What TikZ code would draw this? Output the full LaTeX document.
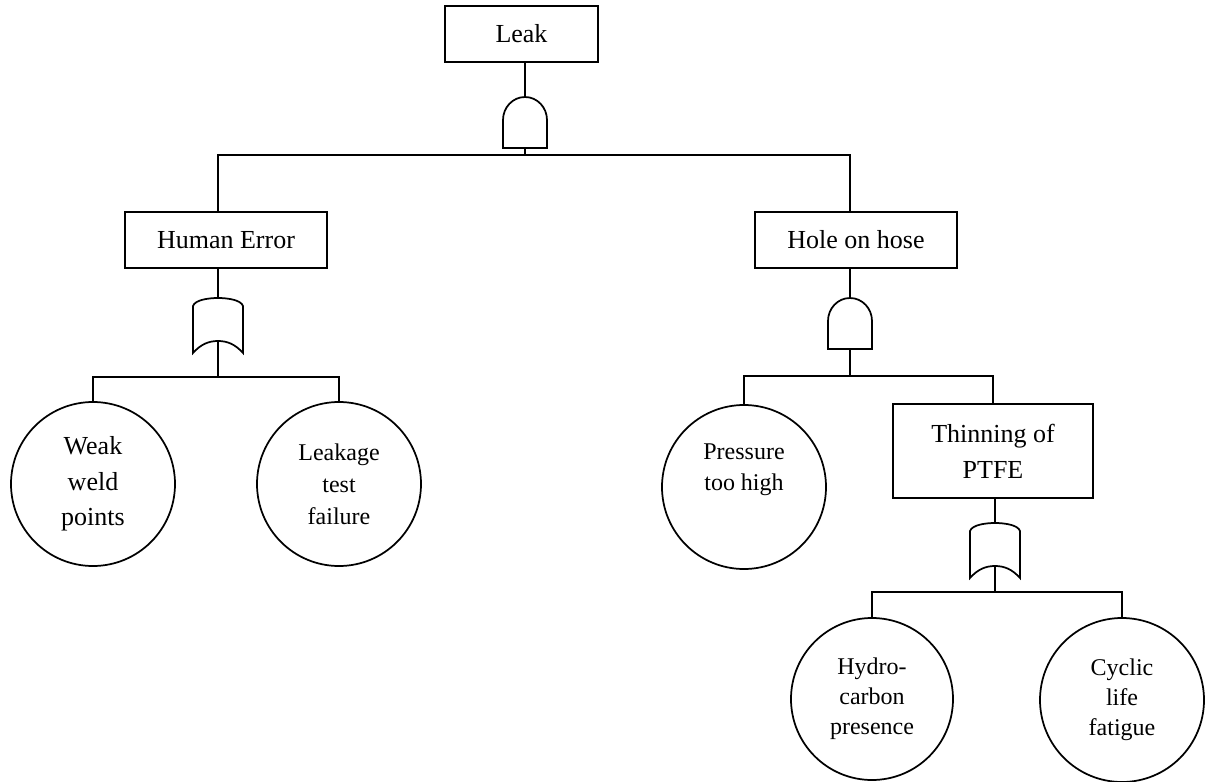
\documentclass[tikz,border=0pt]{standalone}
\usepackage{fontspec}
\setmainfont{Liberation Serif}
\usepackage{tikz}

\begin{document}
\begin{tikzpicture}[x=0.75pt,y=-0.75pt,line width=1.3pt,
	event/.style={draw,rectangle,inner sep=0pt,align=center,minimum height=42pt,font=\fontsize{19.5}{27}\selectfont},
	basic/.style={draw,circle,inner sep=0pt,align=center,minimum size=123pt,font=\fontsize{18}{23.5}\selectfont},
	andgate/.pic={
		\draw (-22,51) -- (-22,23) arc[start angle=180,end angle=360,x radius=22,y radius=23] -- (22,51) -- cycle;
		\coordinate (-in) at (0,0);
		\coordinate (-out) at (0,51);
	},
	orgate/.pic={
		\draw (-25,55) -- (-25,8) .. controls (-23,2) and (-10,0) .. (0,0) .. controls (10,0) and (23,2) .. (25,8) -- (25,55) .. controls (17,46) and (9,43) .. (0,43) .. controls (-9,43) and (-17,46) .. cycle;
		\coordinate (-in) at (0,0);
		\coordinate (-out) at (0,43);
	}]
			\useasboundingbox (0,0) rectangle (1211,782);
			% events
			\node[event,minimum width=114.75pt] (leak) at (521.5,34) {Leak};
			\node[event,minimum width=151.5pt] (human) at (226,240) {Human Error};
			\node[event,minimum width=151.5pt] (hole) at (856,240) {Hole on hose};
			\node[event,minimum width=150pt,minimum height=70.5pt] (thin) at (993,451) {Thinning of\\PTFE};
			\node[basic,font=\fontsize{19.5}{26.6}\selectfont] (weak) at (93,484) {Weak\\weld\\points};
			\node[basic,font=\fontsize{18}{24}\selectfont] (test) at (339,484) {Leakage\\test\\failure};
			\node[basic,font=\fontsize{18}{23.25}\selectfont] (press) at (744,487) {Pressure\\too high\\\strut};
			\node[basic,minimum size=121.5pt,font=\fontsize{18}{22.5}\selectfont] (hydro) at (872,699) {Hydro-\\carbon\\presence};
			\node[basic,font=\fontsize{18}{22.5}\selectfont] (cyclic) at (1122,700) {Cyclic\\life\\fatigue};
			% gates
			\pic (g1) at (525,97) {andgate};
			\pic (g2) at (218,298) {orgate};
			\pic (g3) at (850,298) {andgate};
			\pic (g4) at (995,523) {orgate};
			% connections
			\coordinate (j1) at (525,155);
			\coordinate (j2) at (218,377);
			\coordinate (j3) at (850,376);
			\coordinate (j4) at (995,592);
			\draw (leak.south -| g1-in) -- (g1-in);
			\draw (g1-out) -- (j1);
			\draw (human.north -| g2-in) |- (j1) -| (hole.north -| g3-in);
			\draw (human.south -| g2-in) -- (g2-in);
			\draw (hole.south -| g3-in) -- (g3-in);
			\draw (g2-out) -- (j2);
			\draw (weak.north) |- (j2) -| (test.north);
			\draw (g3-out) -- (j3);
			\draw (press.north) |- (j3) -| (thin.north);
			\draw (thin.south -| g4-in) -- (g4-in);
			\draw (g4-out) -- (j4);
			\draw (hydro.north) |- (j4) -| (cyclic.north);
		\end{tikzpicture}
\end{document}
